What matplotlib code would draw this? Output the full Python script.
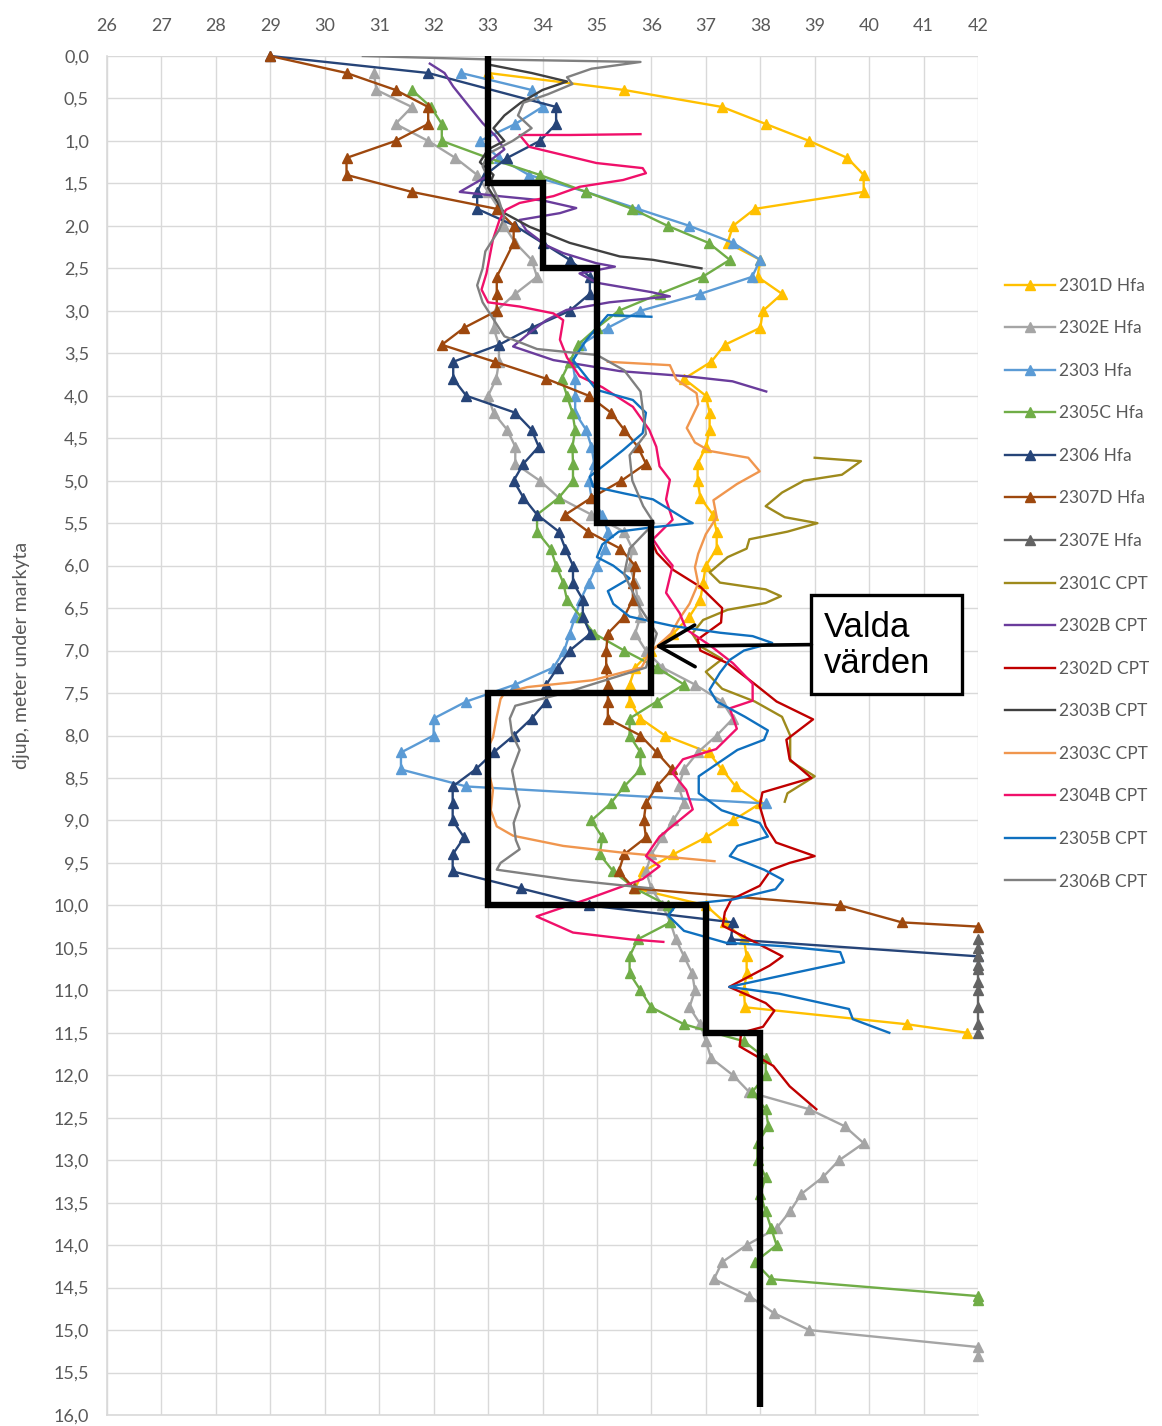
import numpy as np
import matplotlib
matplotlib.use("Agg")
import matplotlib.pyplot as plt
from matplotlib.patches import Rectangle

plt.rcParams['font.family'] = ['Lato', 'DejaVu Sans']

# ---- Hfa soundings: friction angle (deg) and depth (m) ----
v_2301D = [33.0, 35.5, 37.3, 38.1, 38.9, 39.6, 39.9, 39.9, 37.9, 37.5, 37.4, 38.0, 37.95, 38.4, 38.05,
           38.0, 37.35, 37.1, 36.6, 37.0, 37.07, 37.07, 37.0, 36.85, 36.85, 36.9, 37.13, 37.2, 37.2, 37.0,
           36.95, 36.9, 36.7, 36.4, 36.0, 35.7, 35.6, 35.6, 35.8, 36.25, 37.05, 37.3, 37.55, 38.0, 37.5,
           37.0, 36.4, 35.85, 35.7, 37.0, 37.35, 37.7, 37.75, 37.75, 37.7, 37.72, 40.7, 41.8]
d_2301D = [0.2, 0.4, 0.6, 0.8, 1.0, 1.2, 1.4, 1.6, 1.8, 2.0, 2.2, 2.4, 2.6, 2.8, 3.0,
           3.2, 3.4, 3.6, 3.8, 4.0, 4.2, 4.4, 4.6, 4.8, 5.0, 5.2, 5.4, 5.6, 5.8, 6.0,
           6.2, 6.4, 6.6, 6.8, 7.0, 7.2, 7.4, 7.6, 7.8, 8.0, 8.2, 8.4, 8.6, 8.8, 9.0,
           9.2, 9.4, 9.6, 9.8, 10.0, 10.2, 10.4, 10.6, 10.8, 11.0, 11.2, 11.4, 11.5]

v_2302E = [30.9, 30.95, 31.6, 31.3, 31.9, 32.4, 32.8, 33.0, 33.2, 33.3, 33.5, 33.8, 33.9, 33.5, 33.15,
           33.1, 33.2, 33.2, 33.15, 33.0, 33.1, 33.35, 33.5, 33.5, 33.95, 34.3, 34.9, 35.5, 35.65, 35.6,
           35.7, 35.75, 35.8, 35.7, 35.9, 36.2, 36.8, 37.3, 37.5, 37.2, 36.85, 36.6, 36.5, 36.6, 36.4,
           36.2, 36.0, 35.9, 36.0, 36.2, 36.35, 36.45, 36.6, 36.75, 36.8, 36.7, 36.9, 37.0, 37.1, 37.5,
           37.8, 38.9, 39.55, 39.9, 39.45, 39.15, 38.75, 38.55, 38.3, 37.75, 37.3, 37.15, 37.8, 38.25,
           38.9, 42.0, 42.0]
d_2302E = [0.2, 0.4, 0.6, 0.8, 1.0, 1.2, 1.4, 1.6, 1.8, 2.0, 2.2, 2.4, 2.6, 2.8, 3.0,
           3.2, 3.4, 3.6, 3.8, 4.0, 4.2, 4.4, 4.6, 4.8, 5.0, 5.2, 5.4, 5.6, 5.8, 6.0,
           6.2, 6.4, 6.6, 6.8, 7.0, 7.2, 7.4, 7.6, 7.8, 8.0, 8.2, 8.4, 8.6, 8.8, 9.0,
           9.2, 9.4, 9.6, 9.8, 10.0, 10.2, 10.4, 10.6, 10.8, 11.0, 11.2, 11.4, 11.6, 11.8, 12.0,
           12.2, 12.4, 12.6, 12.8, 13.0, 13.2, 13.4, 13.6, 13.8, 14.0, 14.2, 14.4, 14.6, 14.8,
           15.0, 15.2, 15.3]

v_2303 = [32.5, 33.8, 34.0, 33.5, 32.85, 33.2, 33.75, 34.8, 35.75, 36.7, 37.5, 38.0, 37.85, 36.9, 35.8,
          35.2, 34.7, 34.55, 34.6, 34.6, 34.6, 34.8, 34.9, 34.95, 34.85, 34.9, 35.1, 35.2, 35.15, 35.0,
          34.85, 34.7, 34.6, 34.5, 34.4, 34.2, 33.5, 32.6, 32.0, 32.0, 31.4, 31.4, 32.6, 38.1]
d_2303 = [0.2, 0.4, 0.6, 0.8, 1.0, 1.2, 1.4, 1.6, 1.8, 2.0, 2.2, 2.4, 2.6, 2.8, 3.0,
          3.2, 3.4, 3.6, 3.8, 4.0, 4.2, 4.4, 4.6, 4.8, 5.0, 5.2, 5.4, 5.6, 5.8, 6.0,
          6.2, 6.4, 6.6, 6.8, 7.0, 7.2, 7.4, 7.6, 7.8, 8.0, 8.2, 8.4, 8.6, 8.8]

v_2305C = [31.6, 31.95, 32.15, 32.15, 33.0, 33.95, 34.8, 35.65, 36.3, 37.05, 37.44, 36.94, 36.15, 35.4,
           35.0, 34.65, 34.5, 34.35, 34.45, 34.55, 34.6, 34.55, 34.56, 34.56, 34.3, 33.9, 33.9, 34.15,
           34.25, 34.38, 34.45, 34.7, 34.95, 35.5, 36.1, 36.6, 36.1, 35.6, 35.6, 35.8, 35.8, 35.5, 35.25,
           34.9, 35.1, 35.05, 35.3, 35.7, 36.3, 36.35, 35.75, 35.6, 35.6, 35.8, 36.0, 36.6, 37.7, 38.1,
           38.1, 37.85, 38.1, 38.15, 37.95, 37.95, 38.1, 38.0, 38.1, 38.2, 38.3, 37.9, 38.2, 42.0, 42.0]
d_2305C = [0.4, 0.6, 0.8, 1.0, 1.2, 1.4, 1.6, 1.8, 2.0, 2.2, 2.4, 2.6, 2.8, 3.0,
           3.2, 3.4, 3.6, 3.8, 4.0, 4.2, 4.4, 4.6, 4.8, 5.0, 5.2, 5.4, 5.6, 5.8,
           6.0, 6.2, 6.4, 6.6, 6.8, 7.0, 7.2, 7.4, 7.6, 7.8, 8.0, 8.2, 8.4, 8.6, 8.8,
           9.0, 9.2, 9.4, 9.6, 9.8, 10.0, 10.2, 10.4, 10.6, 10.8, 11.0, 11.2, 11.4, 11.6, 11.8,
           12.0, 12.2, 12.4, 12.6, 12.8, 13.0, 13.2, 13.4, 13.6, 13.8, 14.0, 14.2, 14.4, 14.6, 14.65]

v_2306 = [29.0, 31.9, 34.25, 34.25, 33.95, 33.35, 32.95, 32.8, 32.8, 33.5, 34.0, 34.5, 34.87, 34.87,
          34.5, 33.8, 33.2, 32.36, 32.36, 32.6, 33.5, 33.8, 33.93, 33.65, 33.47, 33.65, 33.9, 34.3,
          34.42, 34.56, 34.56, 34.74, 34.74, 34.88, 34.5, 34.28, 34.07, 34.07, 33.8, 33.47, 33.1,
          32.77, 32.35, 32.35, 32.35, 32.56, 32.35, 32.35, 33.6, 34.85, 37.5, 37.46, 42.0]
d_2306 = [0.0, 0.2, 0.6, 0.8, 1.0, 1.2, 1.4, 1.6, 1.8, 2.0, 2.2, 2.4, 2.6, 2.8,
          3.0, 3.2, 3.4, 3.6, 3.8, 4.0, 4.2, 4.4, 4.6, 4.8, 5.0, 5.2, 5.4, 5.6,
          5.8, 6.0, 6.2, 6.4, 6.6, 6.8, 7.0, 7.2, 7.4, 7.6, 7.8, 8.0, 8.2,
          8.4, 8.6, 8.8, 9.0, 9.2, 9.4, 9.6, 9.8, 10.0, 10.2, 10.4, 10.6]

v_2307D = [29.0, 30.4, 31.3, 31.9, 31.9, 31.3, 30.4, 30.4, 31.6, 33.16, 33.47, 33.47, 33.16, 33.16,
           33.16, 32.56, 32.15, 33.12, 34.07, 34.85, 35.26, 35.5, 35.75, 35.9, 35.45, 34.9, 34.42,
           34.84, 35.43, 35.7, 35.66, 35.66, 35.5, 35.2, 35.17, 35.17, 35.2, 35.2, 35.2, 35.8, 36.1,
           36.38, 36.1, 35.9, 35.86, 35.9, 35.5, 35.4, 35.68, 39.47, 40.6, 42.0]
d_2307D = [0.0, 0.2, 0.4, 0.6, 0.8, 1.0, 1.2, 1.4, 1.6, 1.8, 2.0, 2.2, 2.6, 2.8,
           3.0, 3.2, 3.4, 3.6, 3.8, 4.0, 4.2, 4.4, 4.6, 4.8, 5.0, 5.2, 5.4,
           5.6, 5.8, 6.0, 6.2, 6.4, 6.6, 6.8, 7.0, 7.2, 7.4, 7.6, 7.8, 8.0, 8.2,
           8.4, 8.6, 8.8, 9.0, 9.2, 9.4, 9.6, 9.8, 10.0, 10.2, 10.25]

v_2307E = [42.0, 42.0, 42.0, 42.0, 42.0, 42.0, 42.0, 42.0, 42.0, 42.0]
d_2307E = [10.4, 10.5, 10.6, 10.7, 10.75, 10.9, 11.0, 11.2, 11.4, 11.5]

# ---- CPT soundings ----
v_2301C = [39.0, 39.85, 39.5, 38.8, 38.4, 38.1, 38.45, 39.05, 38.5, 37.8, 37.75, 37.4, 37.07, 37.26,
           38.1, 38.38, 38.1, 37.4, 36.95, 36.75, 36.9, 37.3, 37.0, 37.3, 37.9, 38.4, 38.55, 38.55,
           39.0, 38.5, 38.45]
d_2301C = [4.73, 4.77, 4.93, 5.0, 5.14, 5.3, 5.43, 5.5, 5.6, 5.69, 5.8, 5.9, 6.08, 6.2,
           6.28, 6.36, 6.44, 6.52, 6.64, 6.8, 6.95, 7.1, 7.25, 7.45, 7.6, 7.78, 8.0, 8.3,
           8.48, 8.68, 8.78]

v_2302B = [31.93, 32.2, 32.36, 32.66, 32.9, 33.15, 33.3, 33.0, 32.97, 32.48, 33.2, 34.0, 34.62, 34.32,
           33.58, 33.7, 34.07, 34.38, 34.99, 35.33, 34.68, 35.0, 36.0, 36.34, 35.23, 34.44, 34.07,
           33.76, 33.46, 34.2, 35.42, 36.64, 37.49, 38.11]
d_2302B = [0.09, 0.2, 0.36, 0.6, 0.79, 0.95, 1.1, 1.25, 1.42, 1.6, 1.65, 1.7, 1.79, 1.85,
           1.93, 2.05, 2.23, 2.32, 2.44, 2.48, 2.56, 2.67, 2.78, 2.83, 2.9, 2.99, 3.11,
           3.26, 3.42, 3.58, 3.71, 3.77, 3.83, 3.95]

v_2302D = [36.0, 36.1, 36.4, 36.9, 37.3, 37.28, 36.85, 36.9, 37.4, 37.87, 38.3, 38.97, 38.48, 38.54,
           38.94, 38.04, 37.99, 38.1, 38.29, 39.0, 38.54, 38.2, 37.99, 37.47, 37.35, 37.31, 37.68,
           38.41, 38.17, 37.43, 38.1, 38.26, 38.05, 37.65, 37.62, 38.24, 38.54, 39.03]
d_2302D = [5.7, 5.85, 6.05, 6.25, 6.5, 6.67, 6.87, 7.0, 7.15, 7.38, 7.6, 7.81, 8.05, 8.28,
           8.5, 8.67, 8.83, 9.07, 9.26, 9.42, 9.5, 9.58, 9.77, 9.93, 10.08, 10.24, 10.36,
           10.6, 10.71, 10.96, 11.15, 11.24, 11.43, 11.5, 11.66, 11.89, 12.13, 12.4]

v_2303B = [33.0, 33.8, 34.45, 34.0, 33.6, 33.3, 33.1, 33.3, 33.0, 32.85, 33.1, 33.0, 33.15, 33.3,
           33.76, 34.5, 35.42, 36.03, 36.92]
d_2303B = [0.1, 0.2, 0.3, 0.4, 0.55, 0.7, 0.85, 1.0, 1.1, 1.25, 1.4, 1.55, 1.7, 1.85,
           2.01, 2.2, 2.36, 2.4, 2.5]

v_2303C = [35.2, 36.34, 36.46, 36.83, 36.86, 36.65, 36.8, 37.07, 37.78, 37.99, 37.57, 37.14, 37.2,
           37.0, 36.86, 36.8, 36.86, 36.7, 36.5, 36.36, 35.96, 35.82, 34.91, 33.72, 33.3, 33.23,
           33.16, 33.09, 32.98, 33.0, 33.09, 33.05, 33.16, 33.46, 34.38, 35.48, 37.16]
d_2303C = [3.6, 3.64, 3.81, 3.97, 4.1, 4.38, 4.55, 4.65, 4.73, 4.89, 5.04, 5.23, 5.43,
           5.63, 5.86, 6.02, 6.21, 6.45, 6.64, 6.8, 7.03, 7.2, 7.35, 7.43, 7.5, 7.57,
           7.78, 8.02, 8.17, 8.4, 8.64, 8.88, 9.07, 9.18, 9.3, 9.38, 9.48]

v_2304B = [35.8, 34.5, 33.58, 33.76, 34.99, 35.84, 35.9, 35.48, 34.68, 34.2, 33.58, 33.33, 33.21,
           33.09, 33.03, 32.97, 32.88, 33.0, 33.58, 34.2, 34.38, 34.32, 34.45, 34.68, 35.1, 35.66,
           35.96, 36.09, 36.15, 36.34, 36.27, 36.39, 36.03, 36.2, 36.39, 36.27, 36.52, 36.64, 37.1,
           37.5, 37.86, 37.86, 37.44, 37.57, 37.19, 36.58, 36.39, 36.64, 36.76, 36.15, 35.9, 36.15,
           35.84, 34.81, 33.89, 34.56, 35.61, 36.22]
d_2304B = [0.92, 0.93, 0.93, 1.07, 1.26, 1.32, 1.38, 1.46, 1.54, 1.65, 1.73, 1.81, 1.93,
           2.16, 2.36, 2.56, 2.75, 2.9, 2.95, 3.03, 3.11, 3.34, 3.55, 3.77, 3.9, 4.13,
           4.4, 4.6, 4.83, 4.99, 5.22, 5.46, 5.69, 5.85, 6.0, 6.32, 6.56, 6.75, 6.95,
           7.15, 7.39, 7.59, 7.68, 7.92, 8.16, 8.28, 8.44, 8.64, 8.87, 9.19, 9.42, 9.54,
           9.69, 9.93, 10.13, 10.32, 10.4, 10.43]

v_2305B = [36.0, 35.2, 34.81, 34.56, 34.99, 35.66, 35.9, 35.84, 35.48, 34.87, 34.93, 35.5, 36.03,
           36.64, 36.76, 36.0, 35.4, 35.1, 35.0, 35.3, 35.6, 35.2, 35.3, 35.6, 36.39, 37.26, 37.86,
           38.22, 37.7, 37.44, 37.26, 37.07, 37.2, 37.72, 38.14, 38.07, 37.58, 36.87, 36.87, 37.29,
           37.99, 38.14, 37.58, 37.44, 38.07, 38.42, 38.28, 37.5, 36.45, 36.31, 36.6, 37.37, 38.42,
           39.47, 39.54, 38.66, 37.43, 38.35, 39.63, 39.7, 40.37]
d_2305B = [3.07, 3.05, 3.34, 3.58, 3.93, 4.05, 4.2, 4.44, 4.64, 4.95, 5.07, 5.15, 5.22,
           5.46, 5.5, 5.55, 5.6, 5.75, 5.9, 6.0, 6.15, 6.3, 6.45, 6.6, 6.71, 6.79, 6.83,
           6.91, 7.0, 7.11, 7.26, 7.46, 7.6, 7.78, 7.94, 8.05, 8.17, 8.48, 8.68, 8.88,
           9.03, 9.19, 9.3, 9.42, 9.58, 9.7, 9.81, 9.93, 10.0, 10.12, 10.3, 10.44, 10.48,
           10.55, 10.67, 10.79, 10.96, 11.04, 11.22, 11.34, 11.5]

v_2306B = [30.7, 33.0, 35.8, 34.9, 34.45, 34.55, 34.1, 33.65, 33.55, 33.8, 33.45, 33.0, 32.9, 33.05,
           33.2, 33.3, 33.2, 32.95, 32.9, 32.8, 32.9, 33.1, 33.3, 33.9, 35.0, 35.5, 35.8, 35.85,
           35.9, 35.6, 35.65, 35.85, 36.05, 35.6, 35.5, 35.8, 36.1, 35.9, 34.4, 33.5, 33.4, 33.44,
           33.58, 33.44, 33.51, 33.58, 33.47, 33.51, 33.58, 33.23, 33.16, 34.5, 36.0]
d_2306B = [0.0, 0.04, 0.07, 0.15, 0.25, 0.33, 0.45, 0.55, 0.7, 0.85, 1.0, 1.15, 1.3, 1.5,
           1.7, 1.9, 2.05, 2.3, 2.5, 2.7, 2.9, 3.1, 3.3, 3.45, 3.52, 3.7, 3.95, 4.2,
           4.45, 4.7, 5.0, 5.3, 5.5, 5.8, 6.1, 6.5, 6.8, 7.2, 7.5, 7.65, 7.8, 7.98,
           8.17, 8.41, 8.64, 8.83, 9.03, 9.23, 9.34, 9.5, 9.58, 9.7, 9.8]

# ---- selected design values (step profile) ----
valda_x = [33, 33, 34, 34, 35, 35, 36, 36, 33, 33, 37, 37, 38, 38]
valda_d = [0, 1.5, 1.5, 2.5, 2.5, 5.5, 5.5, 7.5, 7.5, 10.0, 10.0, 11.5, 11.5, 15.9]

x_ticks = list(range(26, 43))
y_ticks = [i * 0.5 for i in range(33)]
y_ticklabels = [f"{t:.1f}".replace('.', ',') for t in y_ticks]

hfa = [
    ("2301D Hfa", v_2301D, d_2301D, "#FFC000"),
    ("2302E Hfa", v_2302E, d_2302E, "#A5A5A5"),
    ("2303 Hfa", v_2303, d_2303, "#5B9BD5"),
    ("2305C Hfa", v_2305C, d_2305C, "#70AD47"),
    ("2306 Hfa", v_2306, d_2306, "#264478"),
    ("2307D Hfa", v_2307D, d_2307D, "#9E480E"),
    ("2307E Hfa", v_2307E, d_2307E, "#636363"),
]
cpt = [
    ("2301C CPT", v_2301C, d_2301C, "#9E8A1C"),
    ("2302B CPT", v_2302B, d_2302B, "#6A3C9C"),
    ("2302D CPT", v_2302D, d_2302D, "#C00000"),
    ("2303B CPT", v_2303B, d_2303B, "#404040"),
    ("2303C CPT", v_2303C, d_2303C, "#F0964E"),
    ("2304B CPT", v_2304B, d_2304B, "#F0106A"),
    ("2305B CPT", v_2305B, d_2305B, "#0F70BF"),
    ("2306B CPT", v_2306B, d_2306B, "#808080"),
]

W, H = 1162, 1426
fig = plt.figure(figsize=(W / 100, H / 100), dpi=100)
ax = fig.add_axes([107 / W, 1 - 1415 / H, (978 - 107) / W, (1415 - 56) / H])

ax.set_xlim(26, 42)
ax.set_ylim(16, 0)
ax.xaxis.tick_top()
ax.set_xticks(x_ticks)
ax.set_yticks(y_ticks)
ax.set_yticklabels(y_ticklabels)
ax.grid(True, color="#D9D9D9", lw=1.0)
ax.set_axisbelow(True)
ax.tick_params(length=0, labelsize=13, labelcolor="#595959")
ax.tick_params(axis="x", pad=16)
ax.tick_params(axis="y", pad=13)
for s in ["top", "right"]:
    ax.spines[s].set_visible(False)
for s in ["left", "bottom"]:
    ax.spines[s].set_color("#D9D9D9")
    ax.spines[s].set_linewidth(1.2)

handles = []
for name, v, d, c in hfa:
    ln, = ax.plot(v, d, color=c, lw=1.7, marker="^", ms=6.5, mec=c, mfc=c,
                  label=name, clip_on=False, zorder=3)
    handles.append(ln)
for name, v, d, c in cpt:
    ln, = ax.plot(v, d, color=c, lw=1.7, label=name, zorder=3)
    handles.append(ln)

ax.plot(valda_x, valda_d, color="black", lw=4.6, solid_joinstyle="miter",
        solid_capstyle="butt", zorder=6)

# callout box with arrow
ax.add_patch(Rectangle((38.94, 6.35), 2.76, 1.16, facecolor="white",
                       edgecolor="black", lw=2.4, zorder=7))
ax.text(39.16, 6.94, "Valda\nvärden", fontsize=25, family=["Liberation Sans", "DejaVu Sans"],
        va="center", ha="left", linespacing=1.08, zorder=8)
ax.annotate("", xy=(36.07, 6.95), xytext=(38.94, 6.93),
            arrowprops=dict(arrowstyle="->,head_length=2.6,head_width=1.5",
                            lw=2.6, color="black", shrinkA=0, shrinkB=0,
                            mutation_scale=10),
            zorder=8)

fig.text(22 / W, 1 - 655 / H, "djup, meter under markyta", rotation=90,
         va="center", ha="center", fontsize=14, color="#595959")

fig.legend(handles=handles, loc="upper left", bbox_to_anchor=(996 / W, 1 - 269 / H),
           frameon=False, fontsize=12.5, labelspacing=1.53, handlelength=2.9,
           handletextpad=0.25, borderpad=0, labelcolor="#595959")

fig.savefig("out.png", dpi=100, facecolor="white")
